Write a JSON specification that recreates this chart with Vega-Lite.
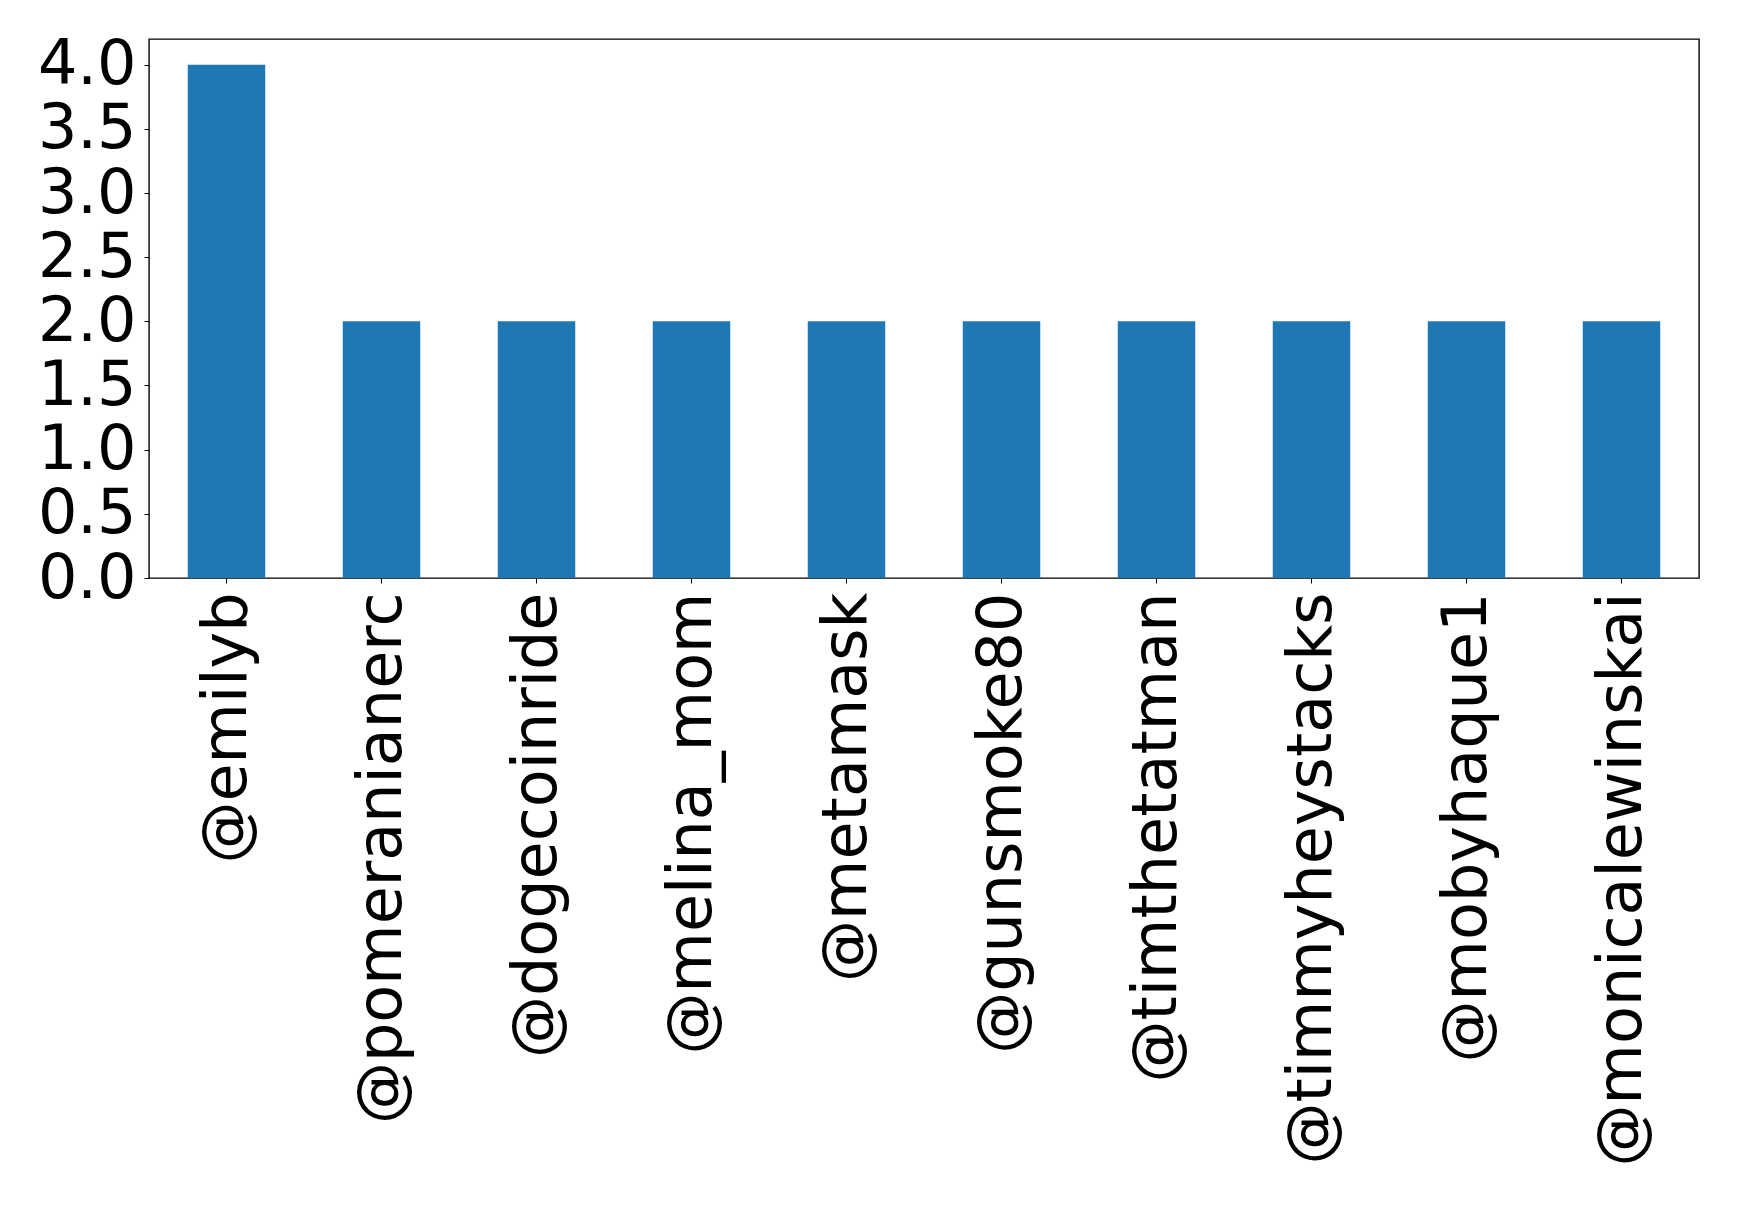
{
  "$schema": "https://vega.github.io/schema/vega-lite/v6.json",
  "autosize": "none",
  "width": 1550,
  "height": 539,
  "padding": {"left": 149, "top": 39, "right": 40, "bottom": 628},
  "background": "white",
  "config": {
    "view": {"stroke": "black", "strokeWidth": 1.4},
    "font": "DejaVu Sans"
  },
  "data": {
    "values": [
      {"user": "@emilyb", "count": 4},
      {"user": "@pomeranianerc", "count": 2},
      {"user": "@dogecoinride", "count": 2},
      {"user": "@melina_mom", "count": 2},
      {"user": "@metamask", "count": 2},
      {"user": "@gunsmoke80", "count": 2},
      {"user": "@timthetatman", "count": 2},
      {"user": "@timmyheystacks", "count": 2},
      {"user": "@mobyhaque1", "count": 2},
      {"user": "@monicalewinskai", "count": 2}
    ]
  },
  "mark": {"type": "bar", "color": "#1f77b4"},
  "encoding": {
    "x": {
      "field": "user",
      "type": "nominal",
      "sort": null,
      "scale": {"paddingInner": 0.5, "paddingOuter": 0.25},
      "axis": {
        "title": null,
        "labelAngle": -90,
        "labelFontSize": 62,
        "labelFont": "DejaVu Sans",
        "labelColor": "black",
        "labelPadding": 9,
        "tickSize": 5,
        "tickColor": "black",
        "domain": false,
        "labelLimit": 0
      }
    },
    "y": {
      "field": "count",
      "type": "quantitative",
      "scale": {"domain": [0, 4.2], "nice": false},
      "axis": {
        "title": null,
        "values": [0, 0.5, 1, 1.5, 2, 2.5, 3, 3.5, 4],
        "format": ".1f",
        "labelFontSize": 62,
        "labelFont": "DejaVu Sans",
        "labelColor": "black",
        "labelPadding": 8,
        "tickSize": 5,
        "tickColor": "black",
        "grid": false,
        "domain": false
      }
    }
  }
}
